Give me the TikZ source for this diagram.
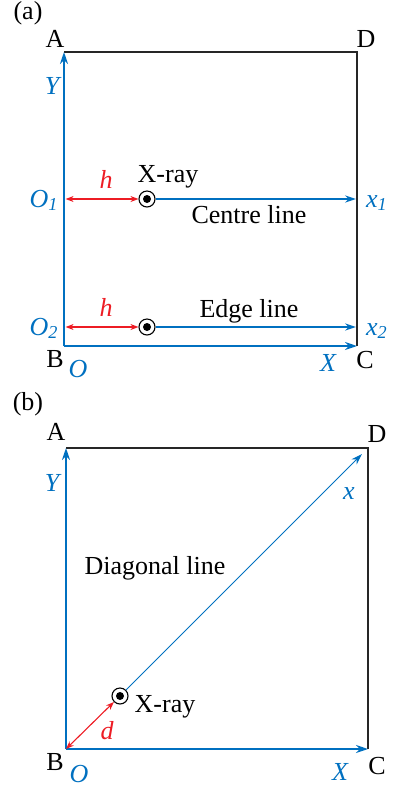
\documentclass[tikz,border=0pt]{standalone}
\usepackage{fontspec}
\setmainfont{Liberation Serif}
\usepackage{tikz}
\usetikzlibrary{arrows.meta,positioning}

\definecolor{xblue}{RGB}{0,112,192}
\definecolor{xred}{RGB}{237,28,36}
\newcommand{\figfont}{\fontsize{13}{15}\selectfont}

\tikzset{
  frame/.style={draw=black!85,line width=0.65pt},
  axis/.style={draw=xblue,line width=1pt,-{Stealth[length=6pt,width=4pt]}},
  beam/.style={draw=xblue,line width=0.75pt,-{Stealth[length=5.5pt,width=3.6pt]}},
  gap/.style={draw=xred,line width=0.55pt,{Stealth[length=4pt,width=3pt]}-{Stealth[length=4pt,width=3pt]}},
  xray/.style={circle,draw=black,line width=0.55pt,minimum size=8pt,inner sep=0pt},
  lbl/.style={anchor=base,inner sep=0pt},
  coordlbl/.style={lbl,text=xblue,font=\figfont\itshape},
  dimlbl/.style={lbl,text=xred,font=\figfont\itshape}
}

\begin{document}
\begin{tikzpicture}[x=0.5pt,y=-0.5pt,font=\figfont]
  \useasboundingbox (0,0) rectangle (393,789);

  % (a) centre line and edge line
  \node[lbl] (tagA) at (28,19) {(a)};
  \coordinate (Aa) at (64,52);
  \coordinate (Ba) at (64,346);
  \coordinate (Ca) at (357,346);
  \coordinate (Da) at (357,52);
  \draw[frame] (Aa) -- (Da) -- (Ca);
  \draw[axis] (Ba) -- (Aa);
  \draw[axis] (Ba) -- (Ca);
  \node[lbl] (labA) at (55,47) {A};
  \node[lbl] (labD) at (366,47) {D};
  \node[lbl] (labB) at (55,367) {B};
  \node[lbl] (labC) at (365,368) {C};
  \node[coordlbl] (labY) at (52,94) {Y};
  \node[coordlbl] (labO) at (78,377) {O};
  \node[coordlbl] (labX) at (328,371) {X};
  \foreach \n/\yy in {1/199,2/327} {
    \coordinate (O\n) at (64,\yy);
    \coordinate (end\n) at (356,\yy);
    \node[xray] (xray\n) at (147,\yy) {};
    \fill (xray\n) circle[radius=2pt];
    \draw[gap,shorten <=0.8pt] (O\n) -- (xray\n);
    \draw[beam] (xray\n) -- (end\n);
    \node[coordlbl] (labO\n) at (44,\yy+8) {O\textsubscript{\n}};
    \node[coordlbl] (labx\n) at (377,\yy+8) {x\textsubscript{\n}};
    \node[dimlbl] (labh\n) at (106,\yy-11) {h};
  }
  \node[lbl] (ray1) at (168,182) {X-ray};
  \node[lbl] (centre) at (249,223) {Centre line};
  \node[lbl] (edge) at (249,317) {Edge line};

  % (b) diagonal line
  \node[lbl] (tagB) at (28,410) {(b)};
  \coordinate (Ab) at (66,448);
  \coordinate (Bb) at (66,749);
  \coordinate (Cb) at (368,749);
  \coordinate (Db) at (368,448);
  \coordinate (tip) at (362,454);
  \draw[frame] (Ab) -- (Db) -- (Cb);
  \draw[axis] (Bb) -- (Ab);
  \draw[axis] (Bb) -- (Cb);
  \node[lbl] (labAb) at (56,440) {A};
  \node[lbl] (labDb) at (377,442) {D};
  \node[lbl] (labBb) at (55,770) {B};
  \node[lbl] (labCb) at (377,774) {C};
  \node[coordlbl] (labYb) at (52,491) {Y};
  \node[coordlbl] (labOb) at (79,782) {O};
  \node[coordlbl] (labXb) at (340,780) {X};
  \node[coordlbl] (labx) at (349,499) {x};
  \node[xray] (xray3) at (120,696) {};
  \fill (xray3) circle[radius=2pt];
  \draw[xblue,line width=0.5pt,-{Stealth[length=5.5pt,width=3.6pt]}] (xray3) -- (tip);
  \draw[gap] (Bb) -- (xray3);
  \node[dimlbl] (labd) at (107,739) {d};
  \node[lbl] (ray3) at (165,712) {X-ray};
  \node[lbl] (diag) at (155,574) {Diagonal line};
\end{tikzpicture}
\end{document}
